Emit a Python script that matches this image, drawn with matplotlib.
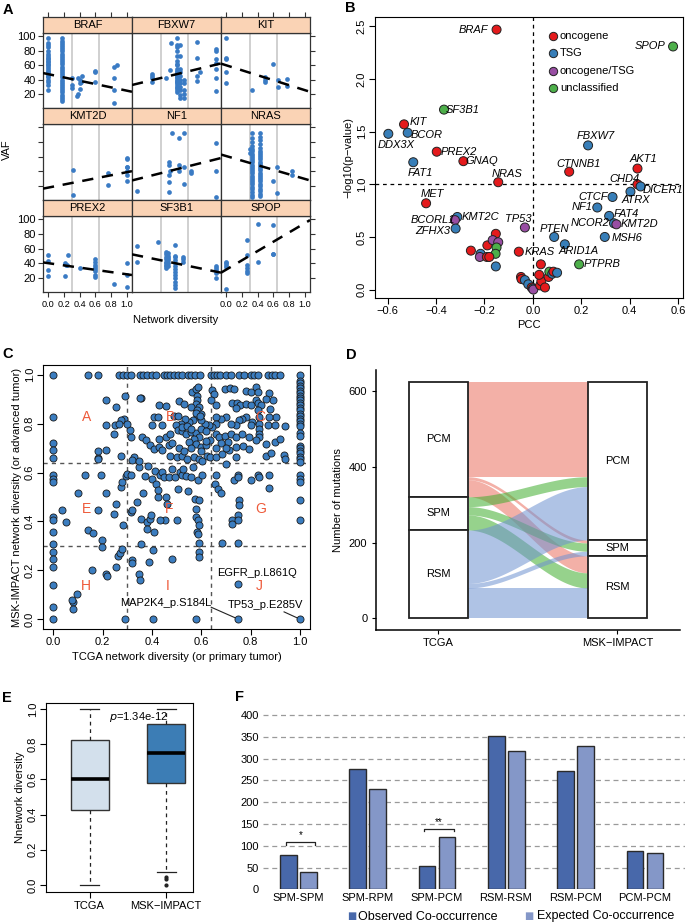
import numpy as np
import matplotlib
matplotlib.use('Agg')
import matplotlib.pyplot as plt
from matplotlib.patches import Rectangle

plt.rcParams['font.family'] = ['Liberation Sans', 'DejaVu Sans']
plt.rcParams['axes.unicode_minus'] = True

# ---------------- DATA ----------------
# Panel A: VAF vs network diversity per gene
a_genes = ['BRAF', 'FBXW7', 'KIT', 'KMT2D', 'NF1', 'NRAS', 'PREX2', 'SF3B1', 'SPOP']
a_x = [
    [0]*24 + [0.18]*30 + [0.30, 0.30, 0.30, 0.37, 0.38, 0.40, 0.41, 0.42, 0.40, 0.43, 0.38, 0.60, 0.60, 0.60, 0.83, 0.83, 0.83, 0.83, 0.88],
    [0.19, 0.19, 0.19, 0.19, 0.37, 0.42, 0.43] + [0.50]*25 + [0.55]*11 + [0.60]*5 + [0.76, 0.76, 0.76, 0.76, 0.80, 1.0, 1.0, 1.0, 1.0, 1.0, 1.0, 1.0],
    [0, 0, 0, 0, 0, 0.33, 0.49, 0.49, 0.49, 0.60, 0.66, 0.66, 0.77, 0.77],
    [0.315, 0.315, 0.76, 0.76, 1.0, 1.0, 1.0, 1.0, 1.0, 1.0, 1.0],
    [0.0, 0.40, 0.41, 0.42, 0.40, 0.40, 0.40, 0.44, 0.53, 0.60, 0.53, 0.53, 0.60, 0.60, 0.68, 0.68, 1.0, 1.0, 1.0],
    [0.30, 0.30] + [0.33]*26 + [0.43]*26 + [0.60, 0.64, 0.64, 0.84, 0.84],
    [0, 0, 0, 0, 0.21, 0.23, 0.24, 0.25, 0.22, 0.40, 0.59, 0.59, 0.59, 0.59, 0.59, 0.59, 0.59, 0.59, 0.83, 1.0, 1.0, 1.0],
    [0.0, 0.0, 0.26] + [0.37]*9 + [0.39]*6 + [0.48]*13 + [0.58, 0.58, 0.58, 1.0, 1.0, 1.0, 1.0, 1.0],
    [0, 0, 0, 0, 0, 0.26, 0.26, 0.26, 0.26, 0.26, 0.26, 0.40, 0.40, 0.59, 0.59, 0.59],
]
a_y = [
    [25, 32, 37, 40, 43, 45, 47, 50, 52, 55, 57, 60, 62, 64, 66, 68, 70, 72, 75, 80, 85, 88, 90, 97]
    + [10, 13, 16, 19, 22, 25, 28, 31, 34, 37, 40, 43, 46, 49, 52, 55, 58, 61, 64, 67, 70, 73, 76, 79, 82, 85, 88, 91, 94, 97]
    + [28, 33, 42, 17, 20, 27, 35, 37, 40, 45, 42, 37, 50, 52, 7, 25, 42, 57, 60],
    [37, 42, 45, 48, 42, 53, 90]
    + [22, 25, 28, 30, 32, 35, 37, 38, 40, 42, 43, 45, 47, 48, 50, 52, 55, 60, 62, 65, 72, 80, 85, 88, 97]
    + [15, 18, 25, 30, 35, 40, 45, 50, 55, 72, 88] + [15, 20, 25, 35, 40]
    + [38, 45, 70, 92, 50, 24, 42, 55, 63, 68, 80, 82],
    [35, 50, 68, 70, 97, 25, 36, 40, 44, 62, 29, 40, 31, 41],
    [42, 8, 37, 21, 58, 57, 46, 45, 40, 35, 27],
    [13, 52, 48, 40, 35, 25, 11, 92, 85, 92, 48, 40, 45, 23, 40, 37, 78, 40, 5],
    [65, 70]
    + [5, 8, 12, 15, 18, 22, 25, 28, 31, 34, 37, 40, 43, 46, 49, 52, 55, 58, 61, 64, 67, 70, 75, 80, 86, 92]
    + [6, 9, 13, 16, 19, 23, 26, 29, 32, 35, 38, 41, 44, 47, 50, 53, 56, 59, 62, 65, 68, 72, 77, 82, 87, 92]
    + [27, 45, 10, 40, 35],
    [51, 43, 31, 23, 40, 38, 37, 51, 22, 33, 45, 42, 38, 35, 32, 29, 24, 21, 11, 40, 24, 8],
    [63, 42, 69] + [33, 36, 38, 40, 42, 45, 48, 52, 55] + [36, 40, 44, 47, 50, 54]
    + [6, 10, 14, 20, 24, 28, 32, 36, 40, 44, 48, 50, 65] + [42, 45, 48, 19, 26, 30, 33, 36],
    [35, 38, 40, 42, 5, 72, 51, 38, 33, 29, 26, 93, 41, 92, 53, 52],
]
# regression line values at x=0 and x=1
a_line0 = [47.5, 34.1, 59.8, 17.4, 29.0, 60.7, 40.0, 50.6, 31.0]
a_line1 = [24.5, 60.6, 25.2, 38.6, 56.2, 29.3, 24.7, 28.4, 94.8]
a_cuts = [0.3, 0.64]

# Panel B: PCC vs -log10(p)
b_genes = ['BRAF', 'SPOP', 'SF3B1', 'KIT', 'BCOR', 'DDX3X', 'FBXW7', 'PREX2', 'GNAQ', 'FAT1',
           'NRAS', 'CTNNB1', 'AKT1', 'CHD4', 'DICER1', 'ATRX', 'CTCF', 'NF1', 'FAT4', 'NCOR2',
           'KMT2D', 'MSH6', 'MET', 'KMT2C', 'BCORL1', 'ZFHX3', 'TP53', 'PTEN', 'ARID1A', 'KRAS', 'PTPRB']
b_pcc = [-0.150, 0.579, -0.367, -0.532, -0.517, -0.597, 0.228, -0.397, -0.287, -0.494,
         -0.143, 0.150, 0.432, 0.432, 0.445, 0.403, 0.329, 0.266, 0.315, 0.335,
         0.345, 0.297, -0.441, -0.312, -0.322, -0.319, -0.033, 0.088, 0.132, -0.058, 0.191]
b_logp = [2.47, 2.31, 1.71, 1.57, 1.49, 1.48, 1.37, 1.31, 1.22, 1.21,
          1.02, 1.12, 1.15, 1.00, 0.98, 0.93, 0.88, 0.78, 0.70, 0.63,
          0.62, 0.50, 0.82, 0.69, 0.66, 0.58, 0.59, 0.50, 0.43, 0.36, 0.24]
b_class = ['onc', 'unc', 'unc', 'onc', 'tsg', 'tsg', 'tsg', 'onc', 'onc', 'tsg',
           'onc', 'onc', 'onc', 'onc', 'tsg', 'tsg', 'tsg', 'tsg', 'tsg', 'tsg',
           'both', 'tsg', 'onc', 'tsg', 'both', 'tsg', 'both', 'tsg', 'tsg', 'onc', 'unc']
# unlabeled genes
b_pcc_u = [-0.153, -0.188, -0.166, -0.143, -0.150, -0.154, -0.256, -0.216, -0.219, -0.190, -0.180,
           -0.153, 0.033, -0.049, -0.047, -0.033, -0.019, -0.005, 0.000, 0.002, 0.030, 0.035,
           0.026, 0.065, 0.068, 0.080, 0.085, 0.100, 0.050]
b_logp_u = [0.53, 0.42, 0.47, 0.45, 0.40, 0.34, 0.37, 0.34, 0.31, 0.31, 0.31,
            0.22, 0.24, 0.12, 0.10, 0.09, 0.05, 0.02, 0.01, 0.00, 0.04, 0.08,
            0.14, 0.12, 0.17, 0.15, 0.17, 0.16, 0.02]
b_class_u = ['onc', 'onc', 'both', 'both', 'unc', 'unc', 'onc', 'tsg', 'both', 'onc', 'onc',
             'tsg', 'onc', 'onc', 'onc', 'tsg', 'tsg', 'onc', 'tsg', 'both', 'onc', 'onc',
             'onc', 'onc', 'unc', 'tsg', 'onc', 'tsg', 'onc']
b_legend = ['oncogene', 'TSG', 'oncogene/TSG', 'unclassified']

# Panel C: TCGA vs MSK-IMPACT network diversity
c_points = [
    (0.0, 1.0), (0.142, 1.0), (0.182, 1.0), (0.266, 1.0), (0.283, 1.0), (0.300, 1.0), (0.314, 1.0),
    (0.351, 1.0), (0.365, 1.0), (0.380, 1.0), (0.400, 1.0), (0.415, 1.0), (0.450, 1.0), (0.462, 1.0),
    (0.475, 1.0), (0.490, 1.0), (0.505, 1.0), (0.520, 1.0), (0.545, 1.0), (0.560, 1.0), (0.575, 1.0),
    (0.595, 1.0), (0.640, 1.0), (0.652, 1.0), (0.664, 1.0), (0.676, 1.0), (0.700, 1.0), (0.720, 1.0),
    (0.752, 1.0), (0.772, 1.0), (0.800, 1.0), (0.815, 1.0), (0.830, 1.0), (0.870, 1.0), (0.885, 1.0),
    (0.900, 1.0), (0.920, 1.0),
    (1.0, 1.0), (1.0, 0.975), (1.0, 0.965), (1.0, 0.955), (1.0, 0.945), (1.0, 0.935), (1.0, 0.925),
    (1.0, 0.915), (1.0, 0.905), (1.0, 0.895), (1.0, 0.885), (1.0, 0.875), (1.0, 0.865), (1.0, 0.855),
    (1.0, 0.84), (1.0, 0.83), (1.0, 0.82), (1.0, 0.81), (1.0, 0.80), (1.0, 0.79), (1.0, 0.76),
    (1.0, 0.75), (1.0, 0.71), (1.0, 0.70), (1.0, 0.69), (1.0, 0.68), (1.0, 0.665), (1.0, 0.655),
    (1.0, 0.645), (1.0, 0.59), (1.0, 0.575), (1.0, 0.56), (1.0, 0.486), (1.0, 0.405),
    (0.0, 0.827), (0.0, 0.72), (0.0, 0.693), (0.0, 0.66), (0.0, 0.588), (0.0, 0.575), (0.0, 0.561),
    (0.0, 0.418), (0.0, 0.407), (0.0, 0.357), (0.0, 0.309), (0.0, 0.275), (0.0, 0.248), (0.0, 0.212),
    (0.0, 0.14), (0.0, 0.05), (0.0, 0.0),
    (0.212, 0.898), (0.253, 0.870), (0.290, 0.915), (0.354, 0.906), (0.428, 0.878), (0.455, 0.872),
    (0.509, 0.892), (0.530, 0.881), (0.563, 0.929), (0.577, 0.943), (0.588, 0.949), (0.584, 0.915),
    (0.581, 0.898), (0.577, 0.881), (0.557, 0.868), (0.590, 0.868), (0.584, 0.854), (0.597, 0.840),
    (0.644, 0.936), (0.651, 0.922), (0.641, 0.895), (0.658, 0.875), (0.696, 0.940), (0.716, 0.947),
    (0.732, 0.943), (0.780, 0.933), (0.800, 0.929), (0.820, 0.952), (0.830, 0.929), (0.820, 0.895),
    (0.830, 0.885), (0.840, 0.875), (0.830, 0.854), (0.874, 0.925), (0.890, 0.898), (0.860, 0.902),
    (0.725, 0.885), (0.745, 0.885), (0.758, 0.875), (0.739, 0.865), (0.780, 0.881), (0.800, 0.878),
    (0.880, 0.861), (0.904, 0.827), (0.874, 0.827), (0.834, 0.827), (0.834, 0.800), (0.834, 0.779),
    (0.834, 0.759), (0.834, 0.745), (0.804, 0.806), (0.780, 0.827), (0.763, 0.820), (0.752, 0.813),
    (0.739, 0.793), (0.719, 0.800), (0.698, 0.827), (0.678, 0.820), (0.658, 0.827), (0.661, 0.800),
    (0.644, 0.786), (0.631, 0.793), (0.615, 0.797), (0.597, 0.813), (0.584, 0.830), (0.577, 0.844),
    (0.567, 0.813), (0.550, 0.806), (0.534, 0.820), (0.517, 0.800), (0.496, 0.793), (0.507, 0.773),
    (0.523, 0.770), (0.536, 0.756), (0.557, 0.766), (0.577, 0.761), (0.590, 0.745), (0.570, 0.739),
    (0.550, 0.725), (0.577, 0.718), (0.597, 0.704), (0.617, 0.711), (0.637, 0.732), (0.658, 0.756),
    (0.671, 0.745), (0.696, 0.749), (0.719, 0.759), (0.739, 0.745), (0.709, 0.725), (0.739, 0.704),
    (0.770, 0.708), (0.795, 0.698), (0.860, 0.718), (0.900, 0.725), (0.920, 0.739), (0.935, 0.670),
    (0.860, 0.666), (0.884, 0.680), (0.800, 0.793), (0.870, 0.793), (0.900, 0.793), (0.940, 0.789),
    (0.455, 0.745), (0.475, 0.756), (0.428, 0.739), (0.408, 0.827), (0.425, 0.827), (0.442, 0.793),
    (0.401, 0.793), (0.360, 0.745), (0.374, 0.732), (0.394, 0.711), (0.408, 0.698), (0.428, 0.704),
    (0.442, 0.691), (0.469, 0.711), (0.475, 0.666), (0.502, 0.663), (0.523, 0.666), (0.543, 0.656),
    (0.570, 0.663), (0.590, 0.656), (0.621, 0.666), (0.637, 0.663), (0.658, 0.663), (0.685, 0.677),
    (0.712, 0.694), (0.739, 0.663), (0.793, 0.745), (0.820, 0.732), (0.766, 0.759), (0.317, 0.745),
    (0.313, 0.773), (0.286, 0.820), (0.276, 0.813), (0.250, 0.793), (0.212, 0.793), (0.246, 0.756),
    (0.350, 0.906), (0.327, 0.663), (0.274, 0.666), (0.212, 0.693), (0.266, 0.80), (0.300, 0.80),
    (0.182, 0.66), (0.320, 0.650), (0.180, 0.69), (0.490, 0.83), (0.505, 0.83), (0.595, 0.83),
    (0.52, 0.785), (0.54, 0.79), (0.56, 0.78), (0.60, 0.78), (0.62, 0.77), (0.48, 0.72), (0.51, 0.70),
    (0.53, 0.69), (0.56, 0.70), (0.60, 0.69), (0.62, 0.73), (0.68, 0.72), (0.70, 0.70), (0.66, 0.70),
    (0.037, 0.445), (0.051, 0.398), (0.102, 0.516), (0.129, 0.588), (0.143, 0.366), (0.163, 0.352),
    (0.180, 0.448), (0.182, 0.657), (0.192, 0.588), (0.199, 0.325), (0.199, 0.296), (0.212, 0.516),
    (0.156, 0.203), (0.215, 0.183), (0.219, 0.176), (0.246, 0.429), (0.253, 0.214), (0.253, 0.472),
    (0.261, 0.257), (0.270, 0.271), (0.280, 0.289), (0.273, 0.541), (0.280, 0.561), (0.293, 0.585),
    (0.297, 0.595), (0.283, 0.384), (0.314, 0.588), (0.318, 0.241), (0.318, 0.228), (0.340, 0.480),
    (0.314, 0.439), (0.320, 0.445), (0.354, 0.412), (0.347, 0.187), (0.351, 0.160), (0.354, 0.309),
    (0.347, 0.622), (0.347, 0.649), (0.363, 0.516), (0.371, 0.585), (0.385, 0.628), (0.380, 0.398),
    (0.380, 0.371), (0.388, 0.235), (0.394, 0.412), (0.398, 0.425), (0.404, 0.282), (0.407, 0.357),
    (0.402, 0.575), (0.413, 0.606), (0.415, 0.555), (0.424, 0.500), (0.426, 0.530), (0.433, 0.588),
    (0.440, 0.602), (0.447, 0.581), (0.456, 0.500), (0.460, 0.470), (0.453, 0.405), (0.433, 0.407),
    (0.482, 0.248), (0.467, 0.581), (0.483, 0.615), (0.493, 0.581), (0.500, 0.405), (0.506, 0.534),
    (0.514, 0.602), (0.520, 0.588), (0.527, 0.615), (0.536, 0.585), (0.547, 0.523), (0.557, 0.581),
    (0.567, 0.622), (0.574, 0.493), (0.577, 0.418), (0.581, 0.357), (0.585, 0.350), (0.589, 0.312),
    (0.589, 0.275), (0.589, 0.255), (0.585, 0.405), (0.590, 0.384), (0.577, 0.452), (0.589, 0.486),
    (0.585, 0.568), (0.604, 0.592), (0.601, 0.649), (0.658, 0.592), (0.655, 0.555), (0.669, 0.534),
    (0.679, 0.516), (0.685, 0.312), (0.700, 0.636), (0.724, 0.405), (0.724, 0.389), (0.734, 0.571),
    (0.750, 0.588), (0.750, 0.581), (0.752, 0.486), (0.752, 0.466), (0.750, 0.425), (0.750, 0.405),
    (0.750, 0.312), (0.800, 0.571), (0.831, 0.588), (0.834, 0.581), (0.872, 0.592), (0.872, 0.537),
    (0.939, 0.657), (0.750, 0.146), (0.080, 0.070), (0.080, 0.040), (0.077, 0.080), (0.097, 0.105),
    (0.290, 0.0), (0.405, 0.0), (0.577, 0.0), (0.750, 0.0), (1.0, 0.0),
]
c_cuts = [0.3, 0.64]
c_region_labels = ['A', 'B', 'C', 'E', 'F', 'G', 'H', 'I', 'J']

# Panel D: alluvial TCGA -> MSK-IMPACT
d_levels = ['PCM', 'SPM', 'RSM']          # top to bottom
d_flows = [[251, 8, 45],                   # from TCGA PCM to MSK PCM/SPM/RSM
           [26, 22, 40],                   # from TCGA SPM
           [141, 12, 80]]                  # from TCGA RSM
d_axes = ['TCGA', 'MSK\u2212IMPACT']

# Panel E: box plot stats
e_groups = ['TCGA', 'MSK\u2212IMPACT']
e_q1 = [0.427, 0.579]
e_med = [0.603, 0.750]
e_q3 = [0.825, 0.916]
e_lo = [0.0, 0.076]
e_hi = [1.0, 1.0]
e_fliers = [[], [0.047, 0.032, 0.0]]

# Panel F: co-occurrence
f_cats = ['SPM-SPM', 'SPM-RPM', 'SPM-PCM', 'RSM-RSM', 'RSM-PCM', 'PCM-PCM']
f_obs = [78, 275, 54, 352, 272, 89]
f_exp = [40, 230, 119, 317, 329, 84]

# ---------------- FIGURE ----------------
W, H = 685, 923
fig = plt.figure(figsize=(W / 100, H / 100), dpi=100)


def ax_px(l, t, r, b, **kw):
    return fig.add_axes([l / W, 1 - b / H, (r - l) / W, (b - t) / H], **kw)


def ftext(px, py, s, **kw):
    fig.text(px / W, 1 - py / H, s, **kw)


DK = '#333333'

# ---------- Panel A ----------
cols = [(43, 132), (132, 221), (221, 310)]
rows = [(17, 33, 108), (108, 124, 200), (200, 216, 292)]
xt = [0, 0.2, 0.4, 0.6, 0.8, 1.0]
for k, gene in enumerate(a_genes):
    r, c = divmod(k, 3)
    l, rr = cols[c]
    st, pt, pb = rows[r]
    ax = ax_px(l, pt, rr, pb)
    sax = ax_px(l, st, rr, pt)
    sax.set_facecolor('#FAD3B5')
    sax.set_xlim(-0.064, 1.064)
    sax.set_yticks([])
    sax.text(0.5, 0.5, gene, transform=sax.transAxes, ha='center', va='center', fontsize=8)
    for sp in sax.spines.values():
        sp.set_color(DK)
        sp.set_linewidth(0.9)
    if r == 0 and c in (0, 2):
        sax.set_xticks(xt)
        sax.tick_params(axis='x', bottom=False, labelbottom=False, top=True, labeltop=False,
                        direction='out', length=3.5, color=DK)
    else:
        sax.set_xticks([])

    ax.set_xlim(-0.064, 1.064)
    ax.set_ylim(0.5, 104.5)
    for v in a_cuts:
        ax.axvline(v, color='#C8C8C8', lw=1.2, zorder=1)
    ax.plot(a_x[k], a_y[k], 'o', ms=3.4, color='#3A7BC4', mew=0, zorder=3)
    xl = np.array([-0.064, 1.064])
    ax.plot(xl, a_line0[k] + (a_line1[k] - a_line0[k]) * xl, color='black', lw=1.8,
            ls=(0, (4.5, 3.5)), zorder=4)
    for sp in ax.spines.values():
        sp.set_color(DK)
        sp.set_linewidth(0.9)
    ax.set_yticks([20, 40, 60, 80, 100])
    ax.tick_params(axis='y', direction='out', length=3.5, color=DK, labelsize=8, pad=1.5,
                   left=(c == 0), labelleft=(c == 0 and r != 1),
                   right=(c == 2), labelright=False)
    if c in (0, 2) and r == 2:
        ax.set_xticks(xt)
        ax.set_xticklabels(['0.0', '0.2', '0.4', '0.6', '0.8', '1.0'])
        ax.tick_params(axis='x', direction='out', length=3.5, color=DK, labelsize=6.6, pad=2)
    else:
        ax.set_xticks([])

ftext(7, 150, 'VAF', rotation=90, ha='center', va='center', fontsize=8)
ftext(176, 320, 'Network diversity', ha='center', va='center', fontsize=8)

# ---------- Panel B ----------
cmap_b = {'onc': '#E41A1C', 'tsg': '#377EB8', 'both': '#984EA3', 'unc': '#4DAF4A'}
axb = ax_px(375, 17, 683, 298)
axb.set_xlim(-0.652, 0.62)
axb.set_ylim(-0.08, 2.59)
axb.axhline(1.0, color='black', lw=0.9, ls=(0, (3, 3)), zorder=1)
axb.axvline(0.0, color='black', lw=0.9, ls=(0, (3, 3)), zorder=1)
axb.scatter(b_pcc_u, b_logp_u, s=42, c=[cmap_b[k] for k in b_class_u], edgecolors='#222222',
            linewidths=0.7, zorder=3)
axb.scatter(b_pcc, b_logp, s=42, c=[cmap_b[k] for k in b_class], edgecolors='#222222',
            linewidths=0.7, zorder=4)
b_off = {'BRAF': (-23, 0), 'SPOP': (-23, 0), 'SF3B1': (19, 0), 'KIT': (14, 2), 'BCOR': (19, -2),
         'DDX3X': (8, -11), 'FBXW7': (8, 9), 'PREX2': (22, 0), 'GNAQ': (18, 0), 'FAT1': (7, -11),
         'NRAS': (9, 8), 'CTNNB1': (9, 8), 'AKT1': (6, 10), 'CHD4': (-13, 5), 'DICER1': (22, -4),
         'ATRX': (5, -8), 'CTCF': (-19, 0), 'NF1': (-15, 0), 'FAT4': (17, 2), 'NCOR2': (-24, 0),
         'KMT2D': (23, 0), 'MSH6': (22, -1), 'MET': (6, 9), 'KMT2C': (23, 0), 'BCORL1': (-22, 0),
         'ZFHX3': (-23, -2), 'TP53': (-7, 8), 'PTEN': (0, 8), 'ARID1A': (14, -7), 'KRAS': (21, 0),
         'PTPRB': (23, 0)}
for g, x, y in zip(b_genes, b_pcc, b_logp):
    dx, dy = b_off[g]
    axb.annotate(g, (x, y), xytext=(dx, dy), textcoords='offset pixels', ha='center',
                 va='center', fontsize=8, style='italic', zorder=5)
axb.set_xticks([-0.6, -0.4, -0.2, 0.0, 0.2, 0.4, 0.6])
axb.set_yticks([0.0, 0.5, 1.0, 1.5, 2.0, 2.5])
axb.set_yticklabels(['0.0', '0.5', '1.0', '1.5', '2.0', '2.5'], rotation=90, va='center')
axb.tick_params(direction='out', length=4, labelsize=8, pad=2)
axb.set_xlabel('PCC', fontsize=8, labelpad=3)
axb.set_ylabel('\u2212log10(p\u2212value)', fontsize=8, labelpad=2)
for i, lab in enumerate(b_legend):
    yy = [35.7, 52.7, 71, 88.3][i]
    col = list(cmap_b.values())[i]
    fig.add_artist(plt.Line2D([553 / W], [1 - yy / H], marker='o', ms=6, mfc=col, mec='#222222',
                              mew=0.7, ls='none', transform=fig.transFigure))
    ftext(560, yy, lab, ha='left', va='center', fontsize=8)

# ---------- Panel C ----------
c_x = [p[0] for p in c_points]
c_y = [p[1] for p in c_points]
axc = ax_px(43.3, 365, 310, 629)
axc.set_xlim(-0.04, 1.04)
axc.set_ylim(-0.04, 1.04)
for v in c_cuts:
    axc.axvline(v, color='#555555', lw=1.0, ls=(0, (3, 3)), zorder=1)
    axc.axhline(v, color='#555555', lw=1.0, ls=(0, (3, 3)), zorder=1)
axc.scatter(c_x, c_y, s=26, c='#3B7DC0', edgecolors='#1A1A1A', linewidths=0.6, zorder=3)
reg_pos = [(0.134, 0.827), (0.476, 0.827), (0.838, 0.827), (0.134, 0.452), (0.469, 0.452),
           (0.84, 0.452), (0.134, 0.135), (0.462, 0.135), (0.834, 0.135)]
for lab, (x, y) in zip(c_region_labels, reg_pos):
    axc.text(x, y, lab, color='#EE5A3A', fontsize=10, ha='center', va='center', zorder=4)
axc.text(0.665, 0.19, 'EGFR_p.L861Q', fontsize=8, ha='left', va='center', zorder=5)
axc.text(0.273, 0.065, 'MAP2K4_p.S184L', fontsize=8, ha='left', va='center', zorder=5)
axc.text(0.705, 0.06, 'TP53_p.E285V', fontsize=8, ha='left', va='center', zorder=5)
axc.plot([0.64, 0.75], [0.049, 0.0], color='#222222', lw=0.8, zorder=2)
axc.plot([0.935, 1.0], [0.03, 0.0], color='#222222', lw=0.8, zorder=2)
axc.set_xticks([0, 0.2, 0.4, 0.6, 0.8, 1.0])
axc.set_xticklabels(['0.0', '0.2', '0.4', '0.6', '0.8', '1.0'])
axc.set_yticks([0, 0.2, 0.4, 0.6, 0.8, 1.0])
axc.set_yticklabels(['0.0', '0.2', '0.4', '0.6', '0.8', '1.0'], rotation=90, va='center')
axc.tick_params(direction='out', length=4, labelsize=8, pad=2)
axc.set_xlabel('TCGA network diversity (or primary tumor)', fontsize=8, labelpad=3)
axc.set_ylabel('MSK-IMPACT network diversity (or advanced tumor)', fontsize=8, labelpad=2)

# ---------- Panel D ----------
axd = ax_px(375.7, 370, 680, 630)
axd.set_xlim(0.65, 2.35)
axd.set_ylim(-31, 656)
for s in ('top', 'right'):
    axd.spines[s].set_visible(False)
axd.spines['left'].set_linewidth(1.1)
axd.spines['bottom'].set_linewidth(1.1)
flows = np.array(d_flows, dtype=float)
tot_t = flows.sum(axis=1)
tot_m = flows.sum(axis=0)
total = flows.sum()
top_t = total - np.concatenate([[0], np.cumsum(tot_t)[:-1]])
top_m = total - np.concatenate([[0], np.cumsum(tot_m)[:-1]])
d_cols = ['#EA6F60', '#40AD2E', '#6E92D1']
wst = 1 / 3
x0, x1 = 1 + wst / 2, 2 - wst / 2
xs = np.linspace(x0, x1, 120)
t = (xs - x0) / (x1 - x0)
sgm = 3 * t ** 2 - 2 * t ** 3
out_ptr = top_t.copy()
in_ptr = top_m.copy()
bands = []
for i in range(3):
    for j in range(3):
        v = flows[i, j]
        yt0 = out_ptr[i]
        out_ptr[i] -= v
        bands.append((i, j, yt0, v))
in_tops = {}
for j in range(3):
    for i in range(3):
        in_tops[(i, j)] = in_ptr[j]
        in_ptr[j] -= flows[i, j]
for (i, j, yt0, v) in bands:
    ym0 = in_tops[(i, j)]
    ytop = yt0 + (ym0 - yt0) * sgm
    axd.fill_between(xs, ytop - v, ytop, color=d_cols[i], alpha=0.55, lw=0, zorder=2)
for xc, tops, tots in ((1, top_t, tot_t), (2, top_m, tot_m)):
    for k in range(3):
        axd.add_patch(Rectangle((xc - wst / 2, tops[k] - tots[k]), wst, tots[k], facecolor='white',
                                edgecolor='#222222', lw=1.3, zorder=3))
        axd.text(xc, tops[k] - tots[k] / 2, d_levels[k], ha='center', va='center', fontsize=8, zorder=4)
axd.set_xticks([1, 2])
axd.set_xticklabels(d_axes)
axd.set_yticks([0, 200, 400, 600])
axd.tick_params(direction='out', length=3, labelsize=8, pad=3)
axd.set_ylabel('Number of mutations', fontsize=8, labelpad=4)

# ---------- Panel E ----------
axe = ax_px(46, 702.7, 193, 892.3)
stats = []
for k in range(2):
    stats.append(dict(med=e_med[k], q1=e_q1[k], q3=e_q3[k], whislo=e_lo[k], whishi=e_hi[k],
                      fliers=e_fliers[k]))
bp = axe.bxp(stats, positions=[1, 2], widths=0.5, patch_artist=True, capwidths=0.25,
             whiskerprops=dict(ls=(0, (3, 3)), lw=0.9, color='#222222'),
             capprops=dict(lw=0.9, color='#222222'),
             medianprops=dict(lw=2.6, color='black'),
             boxprops=dict(lw=1.0, edgecolor='#333333'),
             flierprops=dict(marker='o', ms=2, mfc='#222222', mec='#222222'))
for patch, col in zip(bp['boxes'], ['#D3E0EC', '#3C7DB5']):
    patch.set_facecolor(col)
axe.set_xlim(0.43, 2.35)
axe.set_ylim(-0.042, 1.036)
axe.set_xticks([1, 2])
axe.set_xticklabels(e_groups)
axe.set_yticks([0, 0.2, 0.4, 0.6, 0.8, 1.0])
axe.set_yticklabels(['0.0', '0.2', '0.4', '0.6', '0.8', '1.0'], rotation=90, va='center')
axe.tick_params(direction='out', length=4, labelsize=8, pad=2)
axe.set_ylabel('Nnetwork diversity', fontsize=8, labelpad=2)
axe.text(1.25, 0.955, '$\\it{p}$=1.34e-12', fontsize=8, ha='left', va='center')

# ---------- Panel F ----------
narrow = ['Liberation Sans Narrow', 'Liberation Sans', 'DejaVu Sans']
axf = ax_px(263, 705, 685, 889.3)
xpos = np.arange(len(f_cats))
axf.set_xlim(-0.486, 5.603)
axf.set_ylim(0, 423)
for yv in range(50, 401, 50):
    axf.axhline(yv, color='#9A9A9A', lw=0.9, ls=(0, (4, 3)), zorder=1)
axf.bar(xpos - 0.12, f_obs, width=0.24, color='#4868AA', edgecolor='#2A2A2A', lw=1.0, zorder=3)
axf.bar(xpos + 0.17, f_exp, width=0.24, color='#8497C8', edgecolor='#2A2A2A', lw=1.0, zorder=3)
for sp in axf.spines.values():
    sp.set_visible(False)
axf.set_yticks(range(0, 401, 50))
axf.set_yticklabels([str(v) for v in range(0, 401, 50)], family=narrow)
axf.set_xticks(xpos + 0.02)
axf.set_xticklabels(f_cats, family=narrow)
axf.tick_params(length=0, labelsize=8, pad=3)
# significance brackets
for i, yb, star in ((0, 108, '*'), (2, 139, '**')):
    axf.plot([i - 0.16, i - 0.16, i + 0.27, i + 0.27], [yb - 6, yb, yb, yb - 6], color='#222222',
             lw=0.9, zorder=4)
    axf.text(i + 0.055, yb + 4, star, ha='center', va='bottom', fontsize=7)
ftext(352, 916.5, '\u25A0', color='#4868AA', ha='center', va='center', fontsize=7, family='DejaVu Sans')
ftext(358, 916.5, 'Observed Co-occurrence', ha='left', va='center', fontsize=9, family=narrow)
ftext(529, 916.5, '\u25A0', color='#8497C8', ha='center', va='center', fontsize=7, family='DejaVu Sans')
ftext(537, 916.5, 'Expected Co-occurrence', ha='left', va='center', fontsize=9, family=narrow)

# ---------- Panel letters ----------
for lab, px, py in (('A', 8, 10), ('B', 350, 8), ('C', 8, 354), ('D', 351, 355), ('E', 7, 698),
                    ('F', 240, 697)):
    ftext(px, py, lab, fontsize=10.5, fontweight='bold', ha='center', va='center')

fig.savefig('out.png', dpi=100)
